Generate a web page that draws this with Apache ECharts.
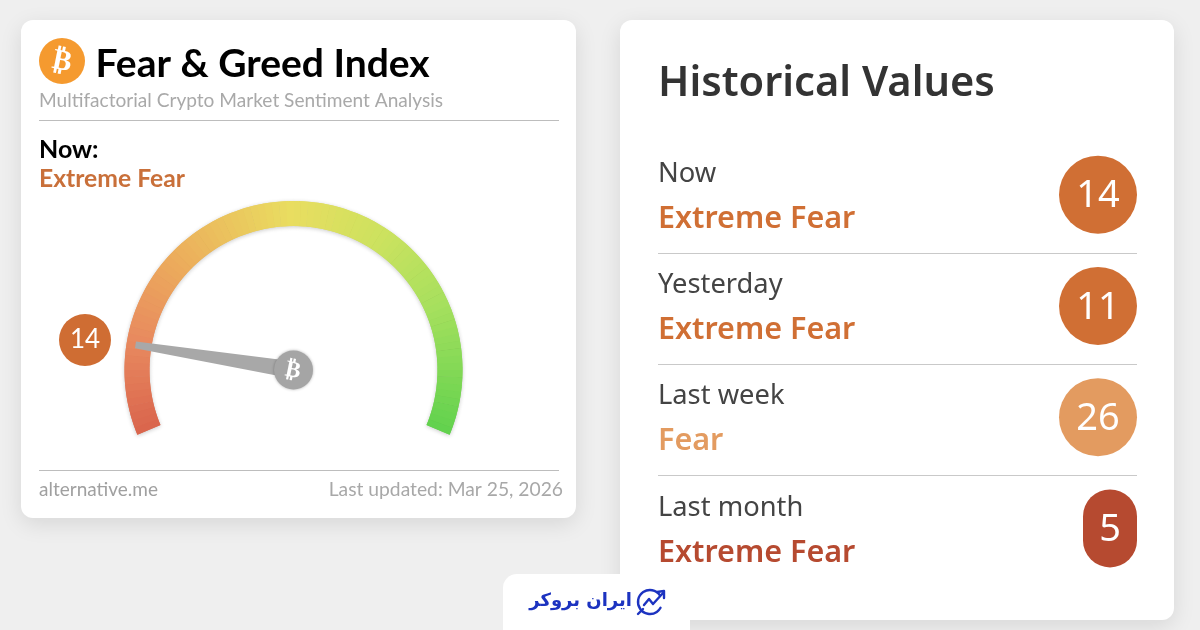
<!DOCTYPE html>
<html>
<head>
<meta charset="utf-8">
<style>html,body{margin:0;padding:0;background:#efefef}#main{width:1200px;height:630px}</style>
<script src="https://cdn.jsdelivr.net/npm/echarts@6/dist/echarts.min.js"></script>
</head>
<body>
<div id="main"></div>
<script>
// gauge
var nowValue = 14;
// historical rows
var periods = ['Now', 'Yesterday', 'Last week', 'Last month'];
var statuses = ['Extreme Fear', 'Extreme Fear', 'Fear', 'Extreme Fear'];
var values = [14, 11, 26, 5];
var rowColors = ['#d06f34', '#d06f34', '#e39b60', '#b64a30'];
// gauge colours, start to end of the arc
var arcKeys = [[0, '#d9634c'], [0.15, '#e8895f'], [0.3, '#ecad5c'], [0.5, '#e9dd60'], [0.65, '#cde25f'], [0.8, '#a6e05e'], [1, '#63d24e']];

function arcStops(n) {
  var out = [];
  for (var i = 1; i <= n; i++) {
    var t = i / n, k = 1;
    while (arcKeys[k][0] < t) k++;
    var f = (t - arcKeys[k - 1][0]) / (arcKeys[k][0] - arcKeys[k - 1][0]);
    out.push([t, echarts.color.lerp(f, [arcKeys[k - 1][1], arcKeys[k][1]])]);
  }
  return out;
}

function txt(x, y, text, size, color, weight, family, align) {
  return {
    type: 'text', x: x, y: y, z: 5,
    style: { text: text, fontSize: size, fill: color, fontWeight: weight || 400, fontFamily: family || 'Lato', textAlign: align || 'left', textVerticalAlign: 'middle' }
  };
}

function statusRich(i) {
  return { fontFamily: 'Noto Sans', fontWeight: 600, fontSize: 30.5, color: rowColors[i], height: 46, lineHeight: 46 };
}

var logoLine = { fill: null, stroke: '#1c33c0', lineWidth: 2.4, lineCap: 'round', lineJoin: 'round' };

var gaugeCenter = [293.5, 370];
var gaugeRadius = 169;
var gaugeStart = 202.5;
var gaugeEnd = -22.5;

var chart = echarts.init(document.getElementById('main'));
chart.setOption({
  animation: false,
  backgroundColor: '#efefef',
  graphic: [
    // cards
    { type: 'rect', z: 0, shape: { x: 21, y: 20, width: 555, height: 498, r: 12 }, style: { fill: '#fff', shadowBlur: 22, shadowColor: 'rgba(0,0,0,0.10)', shadowOffsetY: 6 } },
    { type: 'rect', z: 0, shape: { x: 620, y: 20, width: 554, height: 600, r: 12 }, style: { fill: '#fff', shadowBlur: 22, shadowColor: 'rgba(0,0,0,0.10)', shadowOffsetY: 6 } },
    // left card header
    { type: 'circle', z: 1, shape: { cx: 62, cy: 61, r: 23 }, style: { fill: '#f59a2f' } },
    { type: 'text', z: 5, x: 62, y: 62, rotation: -0.2, style: { text: '₿', fontSize: 29, fontWeight: 700, fill: '#fff', fontFamily: 'DejaVu Sans', textAlign: 'center', textVerticalAlign: 'middle' } },
    txt(95.5, 64, 'Fear & Greed Index', 39, '#000', 700),
    txt(39, 101, 'Multifactorial Crypto Market Sentiment Analysis', 19.1, '#a9a9a9'),
    { type: 'line', z: 1, shape: { x1: 39, y1: 120.5, x2: 559, y2: 120.5 }, style: { stroke: '#bdbdbd', lineWidth: 1 } },
    txt(39, 150, 'Now:', 25, '#000', 700),
    txt(39, 179, 'Extreme Fear', 24.7, '#c9703a', 700),
    { type: 'line', z: 1, shape: { x1: 39, y1: 470.5, x2: 559, y2: 470.5 }, style: { stroke: '#bdbdbd', lineWidth: 1 } },
    txt(39, 490, 'alternative.me', 19, '#a0a0a0'),
    txt(563, 490, 'Last updated: Mar 25, 2026', 19.25, '#a8a8a8', 400, 'Lato', 'right'),
    // coin glyph on the needle hub
    { type: 'text', z: 100, zlevel: 1, x: 293, y: 371, rotation: -0.2, style: { text: '₿', fontSize: 23, fontWeight: 700, fill: '#fff', fontFamily: 'DejaVu Sans', textAlign: 'center', textVerticalAlign: 'middle' } },
    // right card title
    txt(658, 84, 'Historical Values', 41.6, '#333', 600, 'Noto Sans'),
    // logo tab
    { type: 'rect', z: 4, shape: { x: 503, y: 574, width: 187, height: 70, r: 14 }, style: { fill: '#fff' } },
    txt(632, 601, 'ایران بروکر', 18, '#1c33c0', 700, 'DejaVu Sans', 'right'),
    { type: 'arc', z: 11, shape: { cx: 650, cy: 602, r: 12, startAngle: -0.6, endAngle: 0.5, clockwise: false }, style: logoLine },
    { type: 'polyline', z: 11, shape: { points: [[638, 614], [643, 609]] }, style: logoLine },
    { type: 'polyline', z: 11, shape: { points: [[644, 605], [649, 599], [653, 604], [663, 593]] }, style: logoLine },
    { type: 'polyline', z: 11, shape: { points: [[657, 592], [664, 591], [664, 598]] }, style: logoLine }
  ],
  grid: { left: 658, top: 141.5, width: 479, height: 445, show: false },
  xAxis: { type: 'value', min: -1, max: 0, show: false },
  yAxis: {
    type: 'category',
    inverse: true,
    data: periods,
    axisLine: { show: false },
    axisTick: { show: false },
    splitLine: { show: true, showMinLine: false, showMaxLine: false, lineStyle: { color: '#c9c9c9', width: 1 } },
    axisLabel: {
      inside: true,
      margin: 0,
      align: 'left',
      formatter: function (v, i) { return '{a|' + v + '}\n{s' + i + '|' + statuses[i] + '}'; },
      rich: {
        a: { fontFamily: 'Noto Sans', fontSize: 27.3, color: '#444', height: 44, lineHeight: 44 },
        s0: statusRich(0),
        s1: statusRich(1),
        s2: statusRich(2),
        s3: statusRich(3)
      }
    }
  },
  series: [
    // underlay: hides the seams between arc segments and gives the soft edge
    {
      type: 'gauge',
      z: 1,
      center: gaugeCenter,
      radius: gaugeRadius,
      startAngle: gaugeStart,
      endAngle: gaugeEnd,
      min: 0,
      max: 100,
      axisLine: { roundCap: false, lineStyle: { width: 25, color: arcStops(67), shadowBlur: 4, shadowColor: 'rgba(0,0,0,0.22)', shadowOffsetY: 1 } },
      axisTick: { show: false },
      splitLine: { show: false },
      axisLabel: { show: false },
      pointer: { show: false },
      anchor: { show: false },
      title: { show: false },
      detail: { show: false },
      data: [{ value: nowValue }]
    },
    {
      type: 'gauge',
      z: 3,
      center: gaugeCenter,
      radius: gaugeRadius,
      startAngle: gaugeStart,
      endAngle: gaugeEnd,
      min: 0,
      max: 100,
      axisLine: { roundCap: false, lineStyle: { width: 25, color: arcStops(90) } },
      axisTick: { show: false },
      splitLine: { show: false },
      axisLabel: { show: false },
      pointer: { icon: 'path://M3,0 L7,0 L10,100 L0,100 Z', length: 160, width: 17, offsetCenter: [0, 0], itemStyle: { color: '#a8a8a8' } },
      anchor: { show: true, showAbove: true, size: 39, icon: 'circle', itemStyle: { color: '#a5a5a5', shadowBlur: 3, shadowColor: 'rgba(0,0,0,0.3)' } },
      title: { show: false },
      detail: {
        valueAnimation: false,
        offsetCenter: [-208.5, -30],
        width: 52,
        height: 52,
        lineHeight: 52,
        padding: 0,
        borderRadius: 26,
        backgroundColor: '#cf6d33',
        color: '#fff',
        fontFamily: 'Lato',
        fontWeight: 400,
        fontSize: 26,
        formatter: '{value}'
      },
      data: [{ value: nowValue }]
    },
    {
      type: 'scatter',
      encode: { x: 0, y: 1 },
      data: periods.map(function (p, i) {
        var pill = values[i] < 10;
        return {
          value: [0, p, values[i]],
          symbol: pill ? 'path://M27,0 A27,27 0 0 1 54,27 L54,51 A27,27 0 0 1 0,51 L0,27 A27,27 0 0 1 27,0 Z' : 'circle',
          symbolSize: pill ? [54, 78] : 78,
          symbolOffset: [pill ? -27 : -39, -2.5],
          itemStyle: { color: rowColors[i], opacity: 1 }
        };
      }),
      label: {
        show: true,
        formatter: function (p) { return p.value[2]; },
        position: 'inside',
        offset: [0, 2],
        color: '#fff',
        fontFamily: 'Noto Sans',
        fontSize: 38
      }
    }
  ]
});
</script>
</body>
</html>
